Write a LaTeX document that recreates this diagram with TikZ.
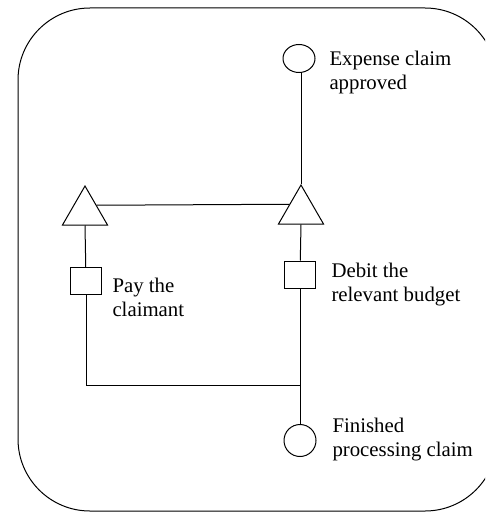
\documentclass[tikz,border=0pt]{standalone}
\usepackage{fontspec}
\setmainfont{Liberation Serif}
\usetikzlibrary{shapes.geometric}
\begin{document}
\begin{tikzpicture}[x=1pt,y=-1pt,
  line width=1pt,
  state/.style={draw, circle, inner sep=0pt, minimum size=32pt},
  startstate/.style={draw, ellipse, inner sep=0pt, minimum width=32pt, minimum height=28pt},
  fork/.style={draw, regular polygon, regular polygon sides=3, inner sep=0pt, minimum size=52pt},
  activity/.style={draw, rectangle, inner sep=0pt, minimum width=31pt, minimum height=27pt},
  caption/.style={anchor=base west, inner sep=0pt, align=left,
    font=\fontsize{20.8}{24}\selectfont}]
  \useasboundingbox (0,0) rectangle (485,513);
  \clip (0,0) rectangle (485,513);

  % frame
  \draw (18,8) [rounded corners=72pt] rectangle (497,511);

  % right column
  \node[startstate] (start) at (299,58.5) {};
  \node[fork] (rt) at (301,211) {};
  \node[activity] (rs) at (300,274.5) {};
  \node[state] (finish) at (300,440.5) {};

  % left column
  \node[fork] (lt) at (85,212) {};
  \node[activity] (ls) at (86,281) {};

  \coordinate (bl) at (86,385);
  \coordinate (j) at (300,385);

  % connectors
  \draw (start.south -| rt.corner 1) -- (rt.corner 1);
  \draw (lt.side 3) -- (rt.side 1);
  \draw (lt.side 2) -- (ls);
  \draw (rt.side 2) -- (rs);
  \draw (rs) -- (finish);
  \draw (ls) -- (bl) -- (j);

  % labels (anchored at the baseline of the last line)
  \node[caption] (tstart) at (329,90) {Expense claim\\approved};
  \node[caption] (tdebit) at (331,301) {Debit the\\relevant budget};
  \node[caption] (tpay) at (112,316) {Pay the\\claimant};
  \node[caption] (tfinish) at (332,456) {Finished\\processing claim};
\end{tikzpicture}
\end{document}
